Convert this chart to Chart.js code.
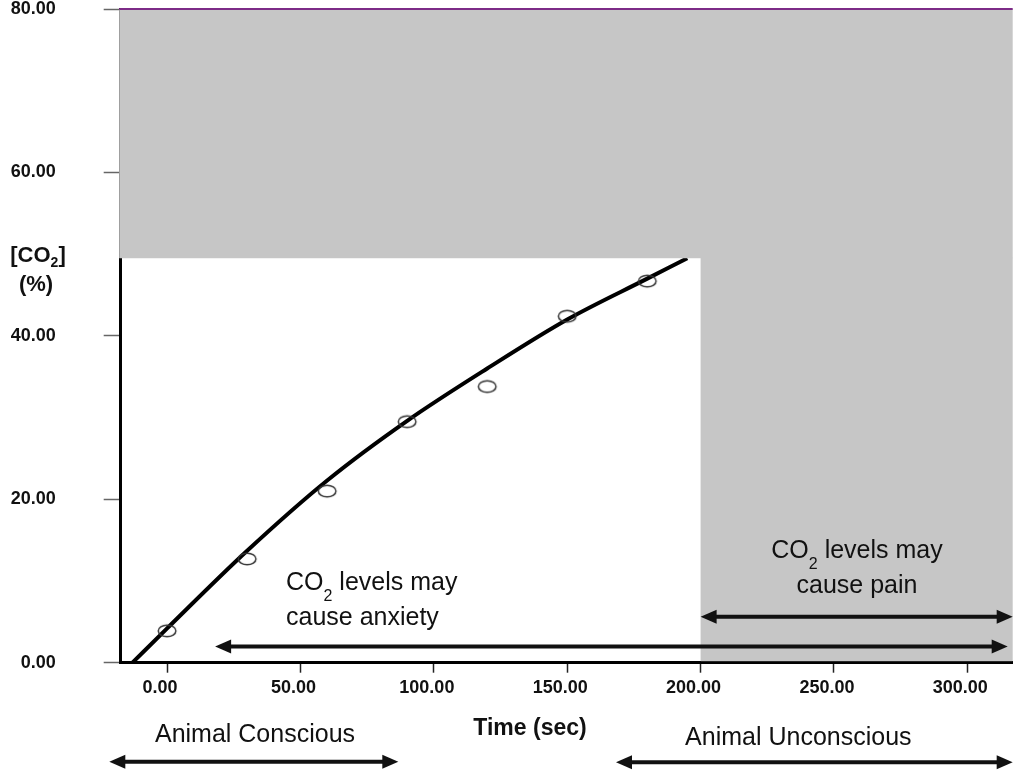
<!DOCTYPE html>
<html>
<head>
<meta charset="utf-8">
<script src="https://cdn.jsdelivr.net/npm/chart.js@4.4.1/dist/chart.umd.min.js"></script>
<style>
  html, body { margin: 0; padding: 0; background: #fff; }
  #wrap { width: 1024px; height: 775px; }
</style>
</head>
<body>
<div id="wrap"><canvas id="co2Chart" width="1024" height="775"></canvas></div>
<script>
// measured CO2 concentration (open circles)
const sampleTimes = [0, 30, 60, 90, 120, 150, 180];
const sampleCO2 = [3.9, 12.7, 21.0, 29.5, 33.8, 42.4, 46.7];

// fitted curve (it disappears under the grey zone)
const curveTimes = [-13, 0, 30, 60, 90, 120, 150, 180, 195];
const curveCO2 = [0, 4.2, 13.7, 22.3, 29.6, 36.0, 42.0, 47.0, 49.5];

const xTicks = [0, 50, 100, 150, 200, 250, 300];
const yTicks = [0, 20, 40, 60, 80];

// grey zone: CO2 above this level, or time past this point
const painLevel = 49.5;
const painTime = 200;

const FONT = "'Liberation Sans', Arial, sans-serif";
const INK = '#111';

// open ellipse used as the point marker
function ellipseMarker() {
    const c = document.createElement('canvas');
    c.width = 22; c.height = 16;
    const g = c.getContext('2d');
    g.strokeStyle = '#333';
    g.lineWidth = 1.5;
    g.beginPath();
    g.ellipse(11, 8, 8.8, 5.8, 0, 0, Math.PI * 2);
    g.stroke();
    return c;
}

// text in pieces so the "2" of CO2 can sit low and small
function richText(ctx, parts, x, y, align) {
    let total = 0;
    parts.forEach(p => { ctx.font = p.font; total += ctx.measureText(p.text).width; });
    let cx = align === 'center' ? x - total / 2 : x;
    ctx.textAlign = 'left';
    ctx.textBaseline = 'alphabetic';
    parts.forEach(p => {
        ctx.font = p.font;
        ctx.fillText(p.text, cx, y + (p.dy || 0));
        cx += ctx.measureText(p.text).width;
    });
}

function arrow(ctx, x1, x2, y) {
    const hl = 16, hw = 7;
    ctx.lineWidth = 4;
    ctx.beginPath();
    ctx.moveTo(x1 + hl - 2, y);
    ctx.lineTo(x2 - hl + 2, y);
    ctx.stroke();
    ctx.beginPath();
    ctx.moveTo(x1, y); ctx.lineTo(x1 + hl, y - hw); ctx.lineTo(x1 + hl, y + hw);
    ctx.closePath(); ctx.fill();
    ctx.beginPath();
    ctx.moveTo(x2, y); ctx.lineTo(x2 - hl, y - hw); ctx.lineTo(x2 - hl, y + hw);
    ctx.closePath(); ctx.fill();
}

const zonePlugin = {
    id: 'zones',
    afterDatasetsDraw(chart) {
        const { ctx, chartArea: a, scales: { x, y } } = chart;
        const yCut = y.getPixelForValue(painLevel);
        const xCut = x.getPixelForValue(painTime);
        const base = y.getPixelForValue(0) - 1.5;
        ctx.save();
        ctx.fillStyle = '#c6c6c6';
        ctx.fillRect(a.left - 1.5, a.top, a.right - a.left + 1.5, yCut - a.top);
        ctx.fillRect(xCut, yCut - 0.5, a.right - xCut, base - yCut + 0.5);
        ctx.strokeStyle = '#7d2b87';
        ctx.lineWidth = 2;
        ctx.beginPath();
        ctx.moveTo(a.left - 1.5, a.top);
        ctx.lineTo(a.right, a.top);
        ctx.stroke();
        ctx.restore();
    }
};

const notesPlugin = {
    id: 'notes',
    afterDraw(chart) {
        const { ctx, chartArea: a, scales: { x } } = chart;
        const reg = s => `${s}px ${FONT}`;
        const bold = s => `bold ${s}px ${FONT}`;
        ctx.save();
        ctx.fillStyle = INK;
        ctx.strokeStyle = INK;

        // y axis title
        richText(ctx, [
            { text: '[CO', font: bold(22) },
            { text: '2', font: bold(14), dy: 5 },
            { text: ']', font: bold(22) }
        ], 38, 262, 'center');
        richText(ctx, [{ text: '(%)', font: bold(22) }], 36, 291, 'center');

        // x axis title
        richText(ctx, [{ text: 'Time (sec)', font: bold(23) }], 530, 735, 'center');

        // anxiety note and arrow
        richText(ctx, [
            { text: 'CO', font: reg(25) },
            { text: '2', font: reg(16), dy: 11 },
            { text: ' levels may', font: reg(25) }
        ], 286, 590, 'left');
        richText(ctx, [{ text: 'cause anxiety', font: reg(25) }], 286, 625, 'left');
        arrow(ctx, x.getPixelForValue(18), a.right - 5, 646.5);

        // pain note and arrow
        const xCut = x.getPixelForValue(painTime);
        richText(ctx, [
            { text: 'CO', font: reg(25) },
            { text: '2', font: reg(16), dy: 11 },
            { text: ' levels may', font: reg(25) }
        ], 857, 557.5, 'center');
        richText(ctx, [{ text: 'cause pain', font: reg(25) }], 857, 592.5, 'center');
        arrow(ctx, xCut, a.right, 616.7);

        // consciousness bands under the axis
        richText(ctx, [{ text: 'Animal Conscious', font: reg(25) }], 255, 742.3, 'center');
        arrow(ctx, 109.3, 398.3, 761.7);
        richText(ctx, [{ text: 'Animal Unconscious', font: reg(25) }], 798.3, 745, 'center');
        arrow(ctx, 616, a.right, 762.3);

        ctx.restore();
    }
};

const ctx = document.getElementById('co2Chart').getContext('2d');
new Chart(ctx, {
    type: 'scatter',
    data: {
        datasets: [{
            label: 'Measured',
            data: sampleTimes.map((t, i) => ({ x: t, y: sampleCO2[i] })),
            pointStyle: ellipseMarker(),
            pointRadius: 8,
            showLine: false
        }, {
            label: 'Fit',
            data: curveTimes.map((t, i) => ({ x: t, y: curveCO2[i] })),
            showLine: true,
            borderColor: '#000',
            borderWidth: 4,
            pointRadius: 0,
            cubicInterpolationMode: 'monotone',
            clip: false
        }]
    },
    options: {
        responsive: false,
        animation: false,
        layout: { padding: { left: 0, right: 11.3, top: 0, bottom: 72.3 } },
        plugins: { legend: { display: false }, tooltip: { enabled: false } },
        scales: {
            x: {
                type: 'linear', min: -17.4, max: 317,
                afterBuildTicks: s => { s.ticks = xTicks.map(v => ({ value: v })); },
                afterFit: s => { s.height = 40; s.paddingLeft = 0; s.paddingRight = 0; },
                border: { color: '#000', width: 3 },
                grid: { drawOnChartArea: false, tickLength: 10, tickWidth: 1.5, tickColor: '#222' },
                ticks: {
                    padding: 6, labelOffset: -7, maxRotation: 0, autoSkip: false, color: INK,
                    font: { family: FONT, size: 18, weight: 'bold', lineHeight: 1 },
                    callback: v => v.toFixed(2)
                }
            },
            y: {
                type: 'linear', min: 0, max: 80,
                afterBuildTicks: s => { s.ticks = yTicks.map(v => ({ value: v })); },
                // labels sit far from the axis; keep that gap out of the top/bottom padding
                afterFit: s => { s.width = 120.7; s.paddingTop = 9; s.paddingBottom = 9; },
                border: { color: '#000', width: 3 },
                grid: { drawOnChartArea: false, tickLength: 17, tickWidth: 1.5, tickColor: '#666' },
                ticks: {
                    padding: 48, color: INK,
                    font: { family: FONT, size: 18, weight: 'bold', lineHeight: 1 },
                    callback: v => v.toFixed(2)
                }
            }
        }
    },
    plugins: [zonePlugin, notesPlugin]
});
</script>
</body>
</html>
